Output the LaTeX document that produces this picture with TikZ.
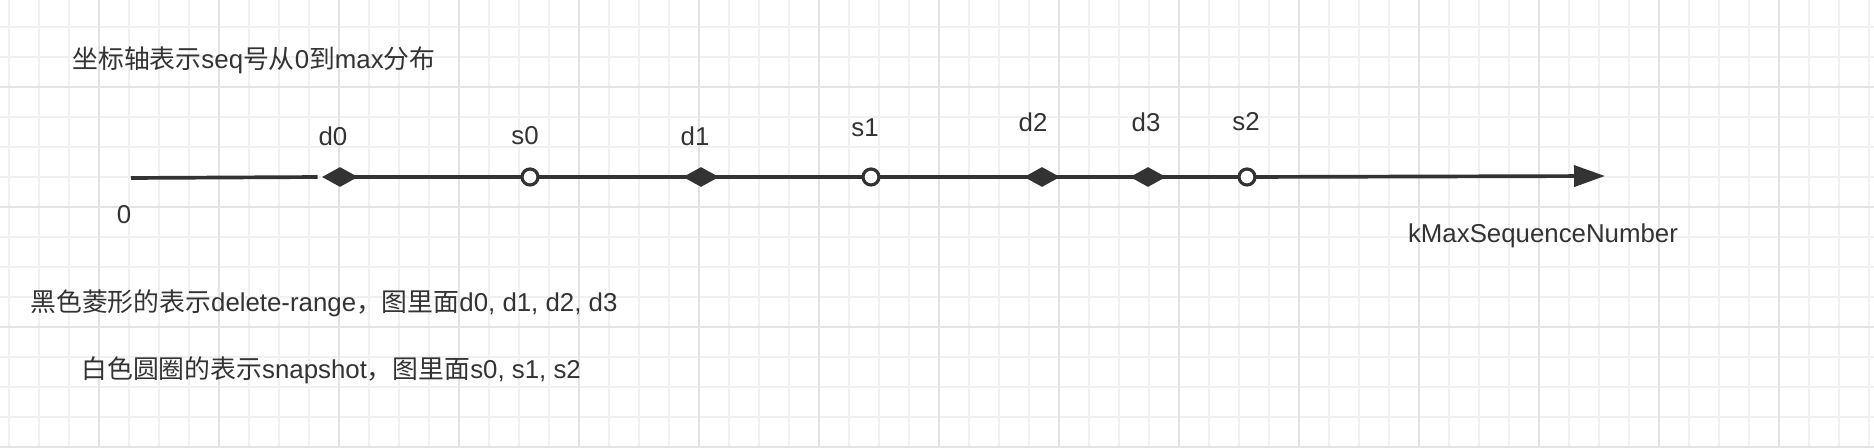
\documentclass[tikz,border=0pt]{standalone}
\usepackage{fontspec}
\setmainfont{Liberation Sans}
\newfontfamily\cjk{Noto Sans CJK SC}
\usetikzlibrary{shapes.geometric,arrows.meta}
\pgfdeclarelayer{gridlayer}
\pgfdeclarelayer{axislayer}
\pgfsetlayers{gridlayer,axislayer,main}
\definecolor{ink}{HTML}{333333}
\definecolor{gridminor}{HTML}{F0F0F0}
\definecolor{gridmajor}{HTML}{E3E3E3}
\newcommand{\zh}[1]{{\cjk #1}}
\tikzset{
  lbl/.style={text=ink,inner sep=0pt,font=\fontsize{14.7}{17}\selectfont},
  delmark/.style={diamond,fill=ink,inner sep=0pt,minimum width=0.72cm,minimum height=0.4cm},
  snapmark/.style={circle,fill=white,draw=ink,line width=1.8pt,inner sep=0pt,minimum size=0.32cm},
  axis/.style={draw=ink,line width=2.1pt}
}
\newcommand{\delnode}[3]{%
 \node[delmark] ({#1}) at ({#2}) {};%
 \node[lbl] ({#1-lbl}) at ({#3}) {#1};%
}
\newcommand{\snapnode}[3]{%
 \node[snapmark] ({#1}) at ({#2}) {};%
 \node[lbl] ({#1-lbl}) at ({#3}) {#1};%
}

\begin{document}
\begin{tikzpicture}[x=0.02cm,y=-0.02cm]
  \useasboundingbox (0,0) rectangle (1874,448);
  % background grid
  \begin{pgfonlayer}{gridlayer}
    \fill[white] (0,0) rectangle (1874,448);
    \foreach \gx in {9,39,...,1869} \draw[gridminor,line width=0.6pt] (\gx,0) -- (\gx,448);
    \foreach \gy in {27,57,...,447} \draw[gridminor,line width=0.6pt] (0,\gy) -- (1874,\gy);
    \foreach \gx in {99,219,...,1779} \draw[gridmajor,line width=0.9pt] (\gx,0) -- (\gx,448);
    \foreach \gy in {87,207,327,447} \draw[gridmajor,line width=0.9pt] (0,\gy) -- (1874,\gy);
  \end{pgfonlayer}

  \node[lbl,anchor=west] (title) at (72,60) {\zh{坐标轴表示}seq\zh{号从}0\zh{到}max\zh{分布}};

  \delnode{d0}{340,177}{333,136}
  \snapnode{s0}{530,177}{525,136}
  \delnode{d1}{701,177}{695,136}
  \snapnode{s1}{871,177}{865,128}
  \delnode{d2}{1042,177}{1033,122}
  \delnode{d3}{1148,177}{1146,122}
  \snapnode{s2}{1247,177}{1246,122}
  \coordinate (origin) at (131,178);
  \coordinate (kmax) at (1605,176);
  \node[lbl] (zero) at (124,215) {0};
  \node[lbl] (kmax-lbl) at (1543,236) {kMaxSequenceNumber};

  % axis runs under the marks
  \begin{pgfonlayer}{axislayer}
    \draw[axis,shorten >=0.08cm] (origin) -- (d0.west);
    \draw[axis] (d0.center) -- (s0.center) -- (d1.center) -- (s1.center) -- (d2.center) -- (d3.center) -- (s2.center);
    \draw[axis,-{Triangle[length=0.62cm,width=0.42cm]}] (s2.center) -- (kmax);
  \end{pgfonlayer}

  \node[lbl,anchor=west] (legend-d) at (30,303) {\zh{黑色菱形的表示}delete-range\zh{，图里面}d0, d1, d2, d3};
  \node[lbl,anchor=west] (legend-s) at (81,370) {\zh{白色圆圈的表示}snapshot\zh{，图里面}s0, s1, s2};
\end{tikzpicture}
\end{document}
